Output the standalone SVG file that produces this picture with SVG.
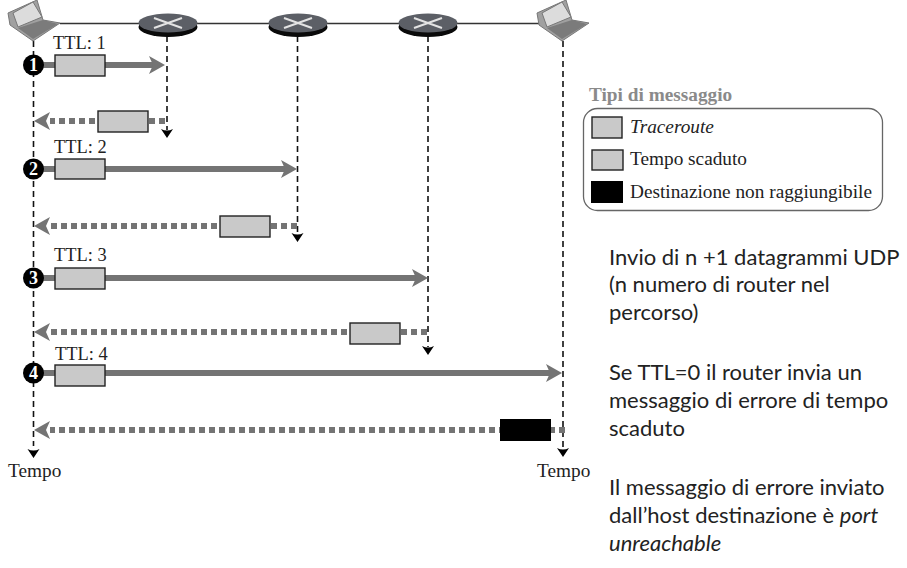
<svg xmlns="http://www.w3.org/2000/svg" width="907" height="568" viewBox="0 0 907 568">
<style>
.s{font-family:"Liberation Serif","Times New Roman",serif;fill:#222}
.ttl{font-size:18.400px}
.t{font-size:19.300px}
.n{font-family:"Liberation Serif",serif;font-size:18px;font-weight:bold;fill:#fff;text-anchor:middle}
.c{font-family:Lato,"Open Sans",sans-serif;font-size:22px;fill:#222}
.life{stroke:#111;stroke-width:1.6;stroke-dasharray:6 4;fill:none}
.sol{stroke:#747474;stroke-width:6;fill:none}
.dot{stroke:#747474;stroke-width:6;stroke-dasharray:6 4;fill:none}
.ah{fill:#747474}
.box{fill:#c9c9c9;stroke:#222;stroke-width:1.4}
.bk{fill:#000}
</style>
<defs>
<g id="router">
<ellipse cx="0" cy="4" rx="29.500" ry="10" fill="#0a0a0a"/>
<ellipse cx="0" cy="0" rx="29.500" ry="9.500" fill="#5c5f66"/>
<path d="M-14-5L14 5M14-5L-14 5" stroke="#e4e4e4" stroke-width="2"/>
</g>
<g id="laptop">
<path d="M8 13L37 0L43 20L60 23L33 41L10 25Z" fill="#a0a0a0" stroke="#777"/>
<path d="M13 13L33 2L42 17L18 27Z" fill="#dcdcdc" stroke="#777"/>
<path d="M18 28L43 20L58 24L33 39Z" fill="#7b7b7b"/>
</g>
</defs>
<g id="connectors">
<path d="M60 23.500H540" stroke="#333" stroke-width="1.500"/>
<path class="life" d="M33.500 41V446"/>
<path class="life" d="M167 36V130"/>
<path class="life" d="M297.500 36V234"/>
<path class="life" d="M428 36V347"/>
<path class="life" d="M563 41V451"/>
<path d="M167 138l-6-9q6 3 12 0z"/>
<path d="M297.500 242l-6-9q6 3 12 0z"/>
<path d="M428 355l-6-9q6 3 12 0z"/>
<path d="M33.500 458l-6-9q6 3 12 0z"/>
<path d="M563 457l-6-9q6 3 12 0z"/>
<path class="sol" d="M40 65H155"/><path class="ah" d="M165 65L149 56L153 65L149 74Z"/>
<path class="sol" d="M40 169H287"/><path class="ah" d="M297 169L281 160L285 169L281 178Z"/>
<path class="sol" d="M40 278H417"/><path class="ah" d="M428 278L412 269L416 278L412 287Z"/>
<path class="sol" d="M40 373H551"/><path class="ah" d="M562 373L546 364L550 373L546 382Z"/>
<path class="dot" d="M165 121H50"/><path class="ah" d="M34 121L50 112L46 121L50 130Z"/>
<path class="dot" d="M297 226H50"/><path class="ah" d="M34 226L50 217L46 226L50 235Z"/>
<path class="dot" d="M427 332H50"/><path class="ah" d="M34 332L50 323L46 332L50 341Z"/>
<path class="dot" d="M565 430H50"/><path class="ah" d="M34 430L50 421L46 430L50 439Z"/>
</g>
<g id="host-a"><use href="#laptop"/></g>
<g id="host-b"><use href="#laptop" x="529"/></g>
<g id="router-1"><use href="#router" x="168" y="23"/></g>
<g id="router-2"><use href="#router" x="298" y="23"/></g>
<g id="router-3"><use href="#router" x="428" y="23"/></g>
<g id="step-1"><circle cx="33.500" cy="65" r="10.500" fill="#000"/><text class="n" x="33.500" y="71">1</text>
<rect class="box" x="55" y="55" width="50" height="21"/><text class="s ttl" x="53" y="49">TTL: 1</text></g>
<g id="msg-1"><rect class="box" x="98" y="111" width="50" height="21"/></g>
<g id="step-2"><circle cx="33.500" cy="169" r="10.500" fill="#000"/><text class="n" x="33.500" y="175">2</text>
<rect class="box" x="55" y="159" width="50" height="20"/><text class="s ttl" x="54" y="153">TTL: 2</text></g>
<g id="msg-2"><rect class="box" x="220" y="216" width="50" height="21"/></g>
<g id="step-3"><circle cx="33.500" cy="278" r="10.500" fill="#000"/><text class="n" x="33.500" y="284">3</text>
<rect class="box" x="55" y="268" width="50" height="21"/><text class="s ttl" x="54" y="261">TTL: 3</text></g>
<g id="msg-3"><rect class="box" x="350" y="323" width="50" height="21"/></g>
<g id="step-4"><circle cx="33.500" cy="373" r="10.500" fill="#000"/><text class="n" x="33.500" y="379">4</text>
<rect class="box" x="55" y="365" width="50" height="21"/><text class="s ttl" x="55" y="360">TTL: 4</text></g>
<g id="msg-4"><rect class="bk" x="500" y="419" width="51" height="22"/></g>
<text class="s t" x="8" y="477">Tempo</text>
<text class="s t" x="537" y="477">Tempo</text>
<g id="legend">
<text class="s t" x="589" y="101" font-weight="bold" style="fill:#8a8a8a">Tipi di messaggio</text>
<rect x="583.500" y="108.500" width="299" height="102" rx="14" fill="#fff" stroke="#666" stroke-width="1.300"/>
<rect class="box" x="592" y="117" width="30" height="21"/>
<text class="s t" x="630" y="133" font-style="italic">Traceroute</text>
<rect class="box" x="592" y="150" width="31" height="20"/>
<text class="s t" x="630" y="165">Tempo scaduto</text>
<rect class="bk" x="591" y="181" width="32" height="22"/>
<text class="s t" x="630" y="198">Destinazione non raggiungibile</text>
</g>
<g id="notes">
<text class="c" x="609" y="265">Invio di n +1 datagrammi UDP</text>
<text class="c" x="609" y="292">(n numero di router nel</text>
<text class="c" x="609" y="320">percorso)</text>
<text class="c" x="609" y="380">Se TTL=0 il router invia un</text>
<text class="c" x="609" y="408">messaggio di errore di tempo</text>
<text class="c" x="609" y="436">scaduto</text>
<text class="c" x="609" y="495">Il messaggio di errore inviato</text>
<text class="c" x="609" y="523">dall’host destinazione è <tspan font-style="italic">port</tspan></text>
<text class="c" x="609" y="551" font-style="italic">unreachable</text>
</g>
</svg>
